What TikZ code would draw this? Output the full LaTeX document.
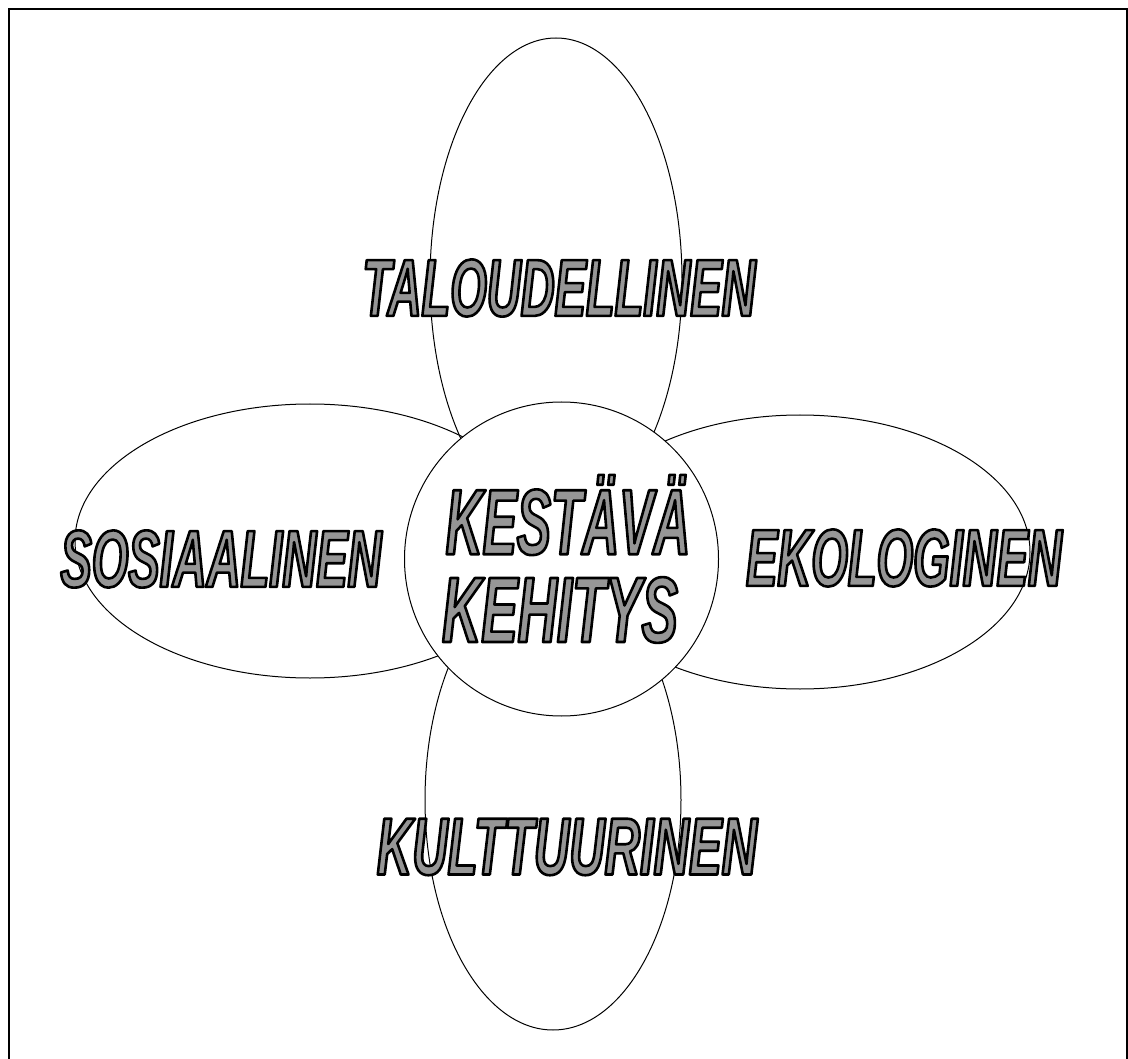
\documentclass[tikz,border=0pt]{standalone}
\usepackage{fontspec}
\usetikzlibrary{shapes.geometric}
\newfontfamily\lblfont{Liberation Sans}
\definecolor{txtgray}{RGB}{150,150,150}
\newcommand{\lab}[2]{{\addfontfeatures{FakeStretch=#1}\color{txtgray}\special{pdf:literal direct 2 Tr 2.6 w 0 G 1 j}#2\special{pdf:literal direct 0 Tr}}}
\tikzset{
  ell/.style={ellipse, draw=black, line width=1pt, inner sep=0pt},
  hub/.style={circle, draw=black, fill=white, line width=1pt, inner sep=0pt},
  lbl/.style={inner sep=0pt, font=\lblfont\bfseries\itshape\fontsize{81pt}{81pt}\selectfont},
  biglbl/.style={inner sep=0pt, font=\lblfont\bfseries\itshape\fontsize{93pt}{93pt}\selectfont},
  frame/.style={line width=2pt, draw=black}
}
\begin{document}
\begin{tikzpicture}[x=1pt,y=-1pt]
\useasboundingbox (0,0) rectangle (1128,1059);
\coordinate (fbl) at (9,1060);
\coordinate (ftl) at (9,9);
\coordinate (ftr) at (1126.5,9);
\coordinate (fbr) at (1126.5,1060);
\draw[frame] (fbl) -- (ftl) -- (ftr) -- (fbr);
% petals
\node[ell, minimum width=252pt, minimum height=484pt] (etop) at (556,280) {};
\node[ell, minimum width=256pt, minimum height=460pt] (ebot) at (553,800) {};
\node[ell, minimum width=470pt, minimum height=274pt] (eleft) at (310,541) {};
\node[ell, minimum width=460pt, minimum height=274pt] (eright) at (800,552) {};
% hub
\node[hub, minimum size=314pt] (hub) at (561.5,559) {};
% labels
\node[lbl] (tal) at (559,288) {\lab{0.58}{TALOUDELLINEN}};
\node[lbl] (sos) at (221,559) {\lab{0.58}{SOSIAALINEN}};
\node[lbl] (eko) at (904,558) {\lab{0.58}{EKOLOGINEN}};
\node[lbl] (kul) at (567,847) {\lab{0.605}{KULTTUURINEN}};
\node[biglbl] (kes) at (568,515) {\lab{0.55}{KESTÄVÄ}};
\node[biglbl] (keh) at (560,610) {\lab{0.585}{KEHITYS}};
\end{tikzpicture}
\end{document}
